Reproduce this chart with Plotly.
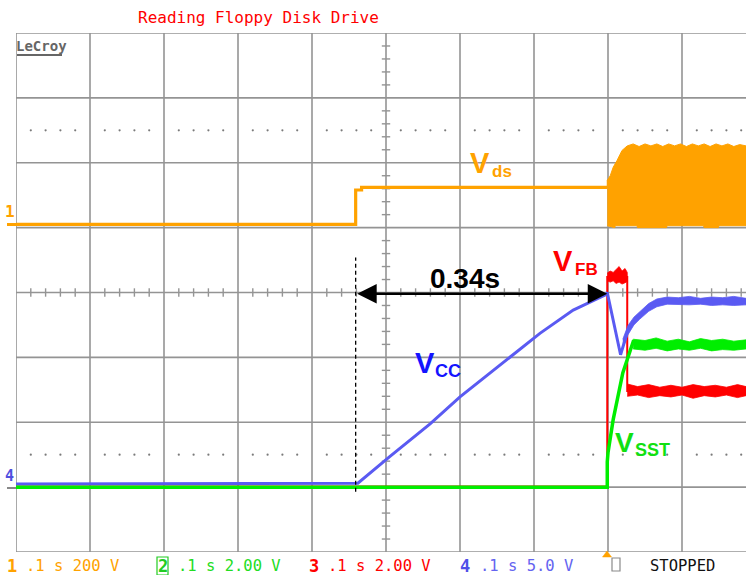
import plotly.graph_objects as go

# ---------------- screen geometry (pixels) ----------------
W, H = 746, 575
PL, PT, PB = 16, 33, 552          # left / top / bottom edge of the graticule
DIV_X = 74.0                      # pixels per horizontal division
X_MAX = (W - PL) / DIV_X          # visible divisions (graticule runs past the right edge)

# ---------------- channel data ----------------
# x in time divisions (0.1 s/div, trigger at 8 div), y in screen divisions
t_ramp_start = 4.59               # Vcc starts rising
t_trigger = 7.99                  # controller starts switching

# CH1  Vds (200 V/div)
vds_x = [0.0, 4.59, 4.59, 4.67, 4.67, 7.99]
vds_y = [1.05, 1.05, 1.58, 1.58, 1.62, 1.62]
# switching burst envelope after start-up
burst_top_x = [7.99, 7.99, 8.03, 8.07, 8.12, 8.19, 8.26, 8.34, 8.42, 8.50, 8.58, 8.66, 8.74,
               8.82, 8.90, 8.98, 9.06, 9.14, 9.22, 9.30, 9.38, 9.46, 9.54, 9.62, 9.70, 9.78, 9.865]
burst_top_y = [1.62, 1.73, 1.80, 1.93, 2.03, 2.19, 2.26, 2.29, 2.25, 2.29, 2.26, 2.29, 2.25,
               2.29, 2.26, 2.29, 2.25, 2.29, 2.26, 2.29, 2.25, 2.29, 2.26, 2.29, 2.25, 2.28, 2.26]
burst_bot_x = [9.865, 9.50, 9.49, 9.30, 9.29, 8.80, 8.79, 8.40, 8.39, 8.10, 8.09, 7.99]
burst_bot_y = [1.03, 1.03, 1.00, 1.00, 1.03, 1.03, 1.00, 1.00, 1.03, 1.03, 1.00, 1.03]

# CH4  Vcc (5 V/div)
vcc_x = [0.0, 4.59, 4.62, 5.05, 5.60, 6.00, 6.54, 7.08, 7.53, 7.96, 7.99,
         8.17, 8.27, 8.35, 8.43, 8.55, 8.66, 8.85, 9.01, 9.865]
vcc_y = [-2.95, -2.95, -2.94, -2.53, -2.02, -1.61, -1.12, -0.63, -0.27, -0.04, 0.0,
         -0.96, -0.58, -0.44, -0.35, -0.23, -0.16, -0.12, -0.12, -0.14]
vcc_band_x = [8.20, 8.27, 8.35, 8.43, 8.55, 8.66, 8.80, 8.95, 9.10, 9.25, 9.40, 9.55, 9.70, 9.865]
vcc_band_hi = [-0.72, -0.51, -0.38, -0.29, -0.17, -0.10, -0.07, -0.08, -0.06, -0.09, -0.07, -0.08, -0.06, -0.09]
vcc_band_lo = [-0.86, -0.65, -0.50, -0.41, -0.29, -0.22, -0.18, -0.19, -0.19, -0.18, -0.20, -0.19, -0.20, -0.19]

# CH3  Vfb (2 V/div)
vfb_x = [0.0, 7.99, 7.99, 8.26, 8.26, 9.865]
vfb_y = [-2.99, -2.99, 0.24, 0.24, -1.52, -1.52]
vfb_hold_x = [7.99, 8.03, 8.07, 8.11, 8.15, 8.19, 8.23, 8.26]
vfb_hold_hi = [0.30, 0.33, 0.31, 0.36, 0.40, 0.33, 0.37, 0.31]
vfb_hold_lo = [0.18, 0.16, 0.18, 0.14, 0.16, 0.13, 0.15, 0.17]
vfb_low_x = [8.26, 8.40, 8.55, 8.70, 8.85, 9.00, 9.15, 9.30, 9.45, 9.60, 9.75, 9.865]
vfb_low_hi = [-1.41, -1.45, -1.42, -1.46, -1.43, -1.46, -1.42, -1.45, -1.43, -1.46, -1.42, -1.45]
vfb_low_lo = [-1.60, -1.58, -1.62, -1.59, -1.61, -1.58, -1.63, -1.59, -1.61, -1.58, -1.62, -1.59]

# CH2  Vsst (2 V/div)
vsst_x = [0.0, 7.99, 7.99, 8.00, 8.07, 8.20, 8.34, 8.43, 9.865]
vsst_y = [-3.0, -3.0, -2.61, -2.47, -1.96, -1.24, -0.76, -0.80, -0.80]
vsst_band_x = [8.34, 8.50, 8.65, 8.80, 8.95, 9.10, 9.25, 9.40, 9.55, 9.70, 9.865]
vsst_band_hi = [-0.72, -0.74, -0.70, -0.75, -0.72, -0.76, -0.71, -0.74, -0.72, -0.75, -0.73]
vsst_band_lo = [-0.87, -0.89, -0.86, -0.90, -0.87, -0.89, -0.86, -0.90, -0.88, -0.89, -0.87]

# status line
channel_ids = ["1", "2", "3", "4"]
channel_settings = [".1 s 200 V", ".1 s 2.00 V", ".1 s 2.00 V", ".1 s 5.0 V"]

ORANGE = "#FFA200"
GREEN = "#00EE00"
RED = "#FF0000"
BLUE = "#5A5AF2"
GRID = "#949494"
MONO = "DejaVu Sans Mono, monospace"
SANS = "Liberation Sans, Arial, sans-serif"


def paper(px, py):
    """Pixel position in the page -> paper coordinates."""
    return (px - PL) / (W - PL), (PB - py) / (PB - PT)


fig = go.Figure()


def band(xs, hi, lo, color):
    fig.add_trace(go.Scatter(
        x=list(xs) + list(xs)[::-1], y=list(hi) + list(lo)[::-1],
        mode="lines", fill="toself", fillcolor=color,
        line=dict(color=color, width=0.8), hoverinfo="skip"))


# Vds
fig.add_trace(go.Scatter(x=vds_x, y=vds_y, mode="lines", line=dict(color=ORANGE, width=3.2)))
fig.add_trace(go.Scatter(x=burst_top_x + burst_bot_x, y=burst_top_y + burst_bot_y,
                         mode="lines", fill="toself", fillcolor=ORANGE,
                         line=dict(color=ORANGE, width=1)))
# Vfb
fig.add_trace(go.Scatter(x=vfb_x, y=vfb_y, mode="lines", line=dict(color=RED, width=2)))
band(vfb_hold_x, vfb_hold_hi, vfb_hold_lo, RED)
band(vfb_low_x, vfb_low_hi, vfb_low_lo, RED)
# Vcc
fig.add_trace(go.Scatter(x=vcc_x, y=vcc_y, mode="lines", line=dict(color=BLUE, width=3)))
band(vcc_band_x, vcc_band_hi, vcc_band_lo, BLUE)
# Vsst
fig.add_trace(go.Scatter(x=vsst_x, y=vsst_y, mode="lines", line=dict(color=GREEN, width=3.5)))
band(vsst_band_x, vsst_band_hi, vsst_band_lo, GREEN)

# graticule dots (rows at +/-2.5 div, every 1/5 division)
dot_x, dot_y = [], []
for row in (2.5, -2.5):
    for k in range(1, int(X_MAX * 5) + 1):
        if k % 5:
            dot_x.append(k / 5)
            dot_y.append(row)
fig.add_trace(go.Scatter(x=dot_x, y=dot_y, mode="markers",
                         marker=dict(color="#7a7a7a", size=2.2), hoverinfo="skip"))

shapes = []
# graticule lines
for i in range(0, 10):
    shapes.append(dict(type="line", xref="x", yref="y", x0=i, x1=i, y0=-4, y1=4,
                       line=dict(color=GRID, width=1.6), layer="below"))
for j in range(-4, 5):
    shapes.append(dict(type="line", xref="x", yref="y", x0=0, x1=X_MAX, y0=j, y1=j,
                       line=dict(color=GRID, width=1.6), layer="below"))
# minor ticks on the centre axes
tick_h = 4.2 / 64.9
tick_w = 4.2 / DIV_X
for k in range(1, int(X_MAX * 5) + 1):
    if k % 5:
        shapes.append(dict(type="line", xref="x", yref="y", x0=k / 5, x1=k / 5,
                           y0=-tick_h, y1=tick_h, line=dict(color=GRID, width=1.4), layer="below"))
for k in range(-19, 20):
    if k % 5:
        shapes.append(dict(type="line", xref="x", yref="y", x0=5 - tick_w, x1=5 + tick_w,
                           y0=k / 5, y1=k / 5, line=dict(color=GRID, width=1.4), layer="below"))
# dashed marker at the start of the Vcc ramp
shapes.append(dict(type="line", xref="x", yref="y", x0=t_ramp_start, x1=t_ramp_start,
                   y0=-3.07, y1=0.54, line=dict(color="black", width=1.3, dash="4px,3px")))

# channel markers at the left edge
x0p, y0p = paper(7, 224.5)
x1p, _ = paper(16, 224.5)
shapes.append(dict(type="line", xref="paper", yref="paper", x0=x0p, x1=x1p, y0=y0p, y1=y0p,
                   line=dict(color=ORANGE, width=3)))
x0p, y0p = paper(7, 488)
shapes.append(dict(type="line", xref="paper", yref="paper", x0=x0p, x1=x1p, y0=y0p, y1=y0p,
                   line=dict(color="#888888", width=2)))
# trigger position marker
ax_, ay_ = paper(607, 551)
bx_, by_ = paper(602.5, 557)
cx_, _ = paper(611.5, 557)
shapes.append(dict(type="path", xref="paper", yref="paper",
                   path=f"M {ax_} {ay_} L {bx_} {by_} L {cx_} {by_} Z",
                   fillcolor=ORANGE, line=dict(color=ORANGE, width=0.5)))
# small status box
bx0, by0 = paper(612, 558)
bx1, by1 = paper(620, 571)
shapes.append(dict(type="rect", xref="paper", yref="paper", x0=bx0, x1=bx1, y0=by1, y1=by0,
                   line=dict(color="#8a8a8a", width=1.2)))
# LeCroy logo underline
ux0, uy = paper(17, 55)
ux1, _ = paper(62, 55)
shapes.append(dict(type="line", xref="paper", yref="paper", x0=ux0, x1=ux1, y0=uy, y1=uy,
                   line=dict(color="#666666", width=2)))

annotations = []


def text(px, py, s, size, color, family=SANS, anchor="left"):
    xp, yp = paper(px, py)
    annotations.append(dict(xref="paper", yref="paper", x=xp, y=yp, text=s, showarrow=False,
                            xanchor=anchor, yanchor="middle",
                            font=dict(family=family, size=size, color=color)))


# measurement arrow between ramp start and trigger
annotations.append(dict(xref="x", yref="y", axref="x", ayref="y",
                        x=t_trigger, y=-0.02, ax=t_ramp_start, ay=-0.02, text="",
                        showarrow=True, arrowhead=2, startarrowhead=2, arrowside="end+start",
                        arrowsize=1.5, startarrowsize=1.5, arrowwidth=2.6, arrowcolor="black"))
text(428, 278, f"<b>{(t_trigger - t_ramp_start) * 0.1:.2f}s</b>", 28, "black")

# trace labels
text(468, 162.5, "<b>V</b>", 29, ORANGE)
text(490, 171, "<b>ds</b>", 17, ORANGE)
text(551, 260.5, "<b>V</b>", 29, RED)
text(573, 269, "<b>FB</b>", 17, RED)
text(413, 362.5, "<b>V</b>", 29, "#1414FF")
text(433, 370.5, "<b>CC</b>", 18, "#1414FF")
text(613, 442, "<b>V</b>", 28, "#11E011")
text(633, 449.5, "<b>SST</b>", 18, "#11E011")

# title and logo
text(136, 17.5, "Reading Floppy Disk Drive", 16, RED, MONO)
text(14, 46, "<b>LeCroy</b>", 14, "#666666", MONO)

# left-edge channel flags
text(3, 211, "<b>1</b>", 16, ORANGE, MONO)
text(3, 476, "<b>4</b>", 15, "#5050e0", MONO)

# status line
id_x = [5, 156, 307, 458]
set_x = [24, 176, 326, 478]
id_colors = [ORANGE, "#22CC22", RED, "#5050E8"]
set_colors = [ORANGE, "#22DD22", RED, "#6464F0"]
for cid, cs, ix, sx, ic, sc in zip(channel_ids, channel_settings, id_x, set_x, id_colors, set_colors):
    text(ix, 566, f"<b>{cid}</b>", 17, ic, MONO)
    text(sx, 566, cs, 15.5, sc, MONO)
gx0, gy0 = paper(157, 557)
gx1, gy1 = paper(168, 575)
shapes.append(dict(type="rect", xref="paper", yref="paper", x0=gx0, x1=gx1, y0=gy1, y1=gy0,
                   line=dict(color="#22CC22", width=1.2)))
text(648, 566, "STOPPED", 15.5, "#111111", MONO)

fig.update_layout(
    width=W, height=H,
    margin=dict(l=PL, r=0, t=PT, b=H - PB),
    paper_bgcolor="white", plot_bgcolor="white",
    showlegend=False,
    xaxis=dict(range=[0, X_MAX], visible=False, fixedrange=True),
    yaxis=dict(range=[-4, 4], visible=False, fixedrange=True),
    shapes=shapes, annotations=annotations,
)

fig.write_html("out.html")
